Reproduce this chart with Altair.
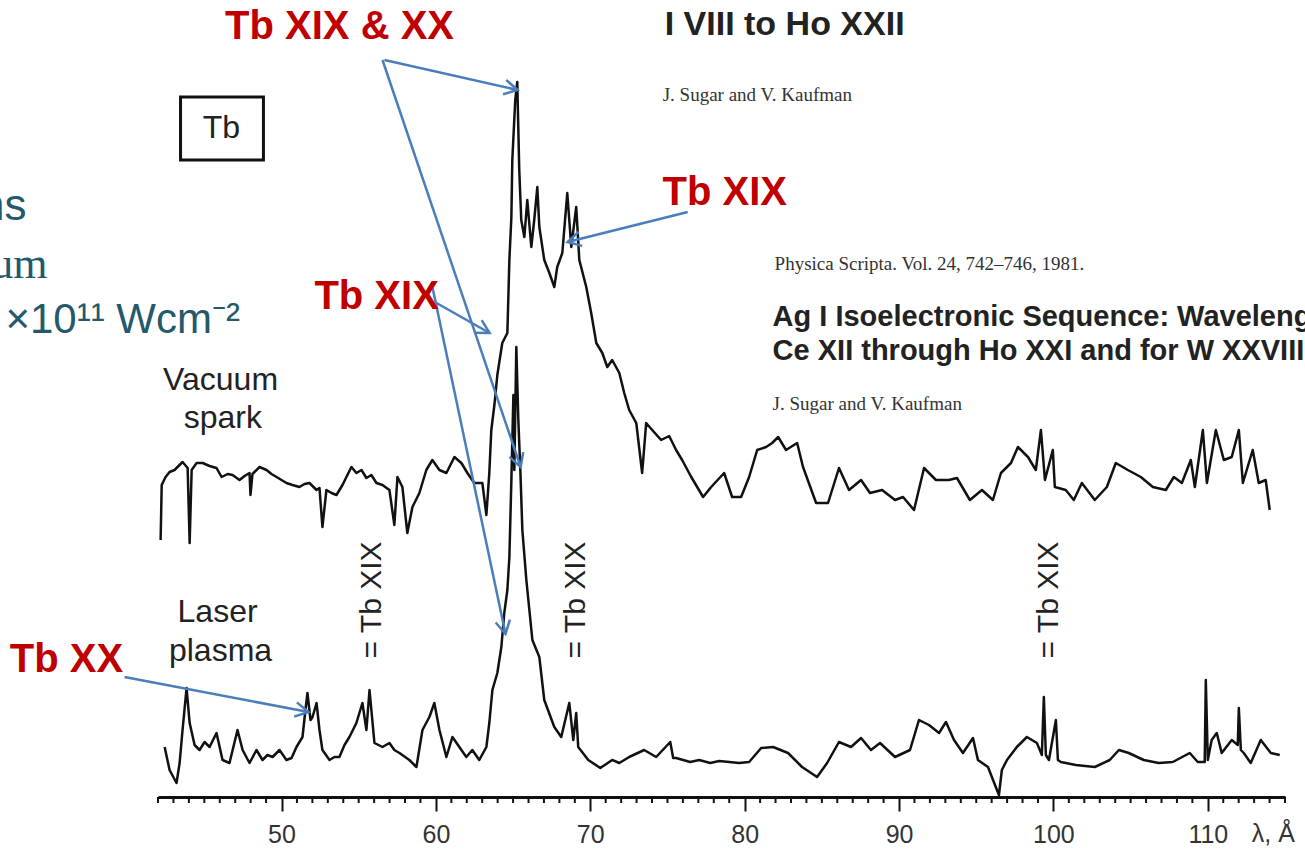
import math
import altair as alt
import pandas as pd

# ---------------- data ----------------
# wavelength in Angstrom, intensity in arbitrary units (vacuum spark trace sits above the laser trace)
spark_wl = [42.17, 42.24, 42.49, 42.75, 43.07, 43.59, 43.92, 44.05, 44.18, 44.50, 44.89, 45.34, 45.79,
            46.12, 46.51, 46.83, 47.28, 47.61, 47.93, 47.99, 48.12, 48.58, 49.03, 49.35, 49.68, 50.00,
            50.32, 50.71, 51.16, 51.49, 51.81, 52.27, 52.46, 52.65, 52.91, 53.24, 53.56, 53.95, 54.27,
            54.53, 54.85, 55.18, 55.50, 55.82, 56.15, 56.54, 56.99, 57.31, 57.51, 57.83, 58.15, 58.48,
            58.93, 59.38, 59.77, 60.23, 60.68, 61.20, 61.65, 62.04, 62.49, 63.01, 63.27, 63.46, 63.59,
            63.79, 63.98, 64.30, 64.63, 64.76, 64.89, 64.95, 65.14, 65.27, 65.40, 65.53, 65.73, 65.92,
            66.18, 66.37, 66.57, 66.70, 67.02, 67.35, 67.67, 67.86, 68.19, 68.51, 68.77, 69.09, 69.29,
            69.74, 70.06, 70.39, 70.78, 71.10, 71.42, 71.88, 72.20, 72.52, 72.98, 73.36, 73.62, 74.01,
            74.59, 75.11, 75.56, 75.95, 76.54, 77.31, 77.83, 78.67, 79.19, 79.77, 80.29, 80.81, 81.39,
            81.78, 82.17, 82.68, 83.40, 83.78, 84.63, 85.40, 86.11, 86.76, 87.54, 88.12, 88.90, 89.74,
            90.26, 90.97, 91.62, 92.39, 93.23, 93.75, 94.59, 95.37, 96.08, 96.60, 97.25, 97.70, 98.35,
            98.86, 99.19, 99.45, 99.96, 100.09, 100.80, 101.32, 101.84, 102.68, 103.46, 104.04, 104.82,
            105.66, 106.44, 107.28, 107.80, 108.32, 108.90, 109.16, 109.68, 109.94, 110.52, 111.04,
            111.55, 112.01, 112.27, 112.91, 113.30, 113.75, 114.01]
spark_int = [257, 312, 320, 325, 327, 335, 329, 254, 327, 334, 334, 331, 329,
             320, 323, 322, 317, 321, 324, 302, 323, 330, 327, 323, 320, 317,
             314, 312, 310, 313, 314, 307, 309, 270, 307, 304, 302, 312, 322,
             330, 324, 327, 319, 322, 314, 312, 307, 272, 320, 310, 264, 290,
             304, 327, 337, 327, 324, 340, 334, 324, 314, 314, 282, 324, 367,
             392, 422, 454, 464, 537, 580, 637, 697, 715, 627, 577, 560, 597,
             550, 577, 610, 570, 537, 524, 510, 530, 544, 604, 550, 590, 537,
             510, 484, 454, 444, 430, 437, 424, 404, 387, 374, 324, 374, 367,
             357, 361, 347, 337, 320, 300, 310, 324, 300, 300, 320, 347, 350,
             354, 360, 347, 354, 330, 294, 294, 329, 307, 317, 304, 307, 297,
             300, 287, 329, 317, 317, 319, 297, 307, 297, 324, 334, 350, 340,
             327, 367, 317, 347, 310, 307, 297, 314, 297, 310, 334, 327,
             320, 310, 307, 320, 314, 337, 310, 367, 314, 367, 337,
             340, 367, 314, 347, 314, 317, 287]

laser_wl = [42.43, 42.75, 43.20, 43.40, 43.59, 43.85, 44.05, 44.37, 44.69, 45.02, 45.34, 45.79, 46.18,
            46.63, 47.15, 47.48, 47.93, 48.38, 48.77, 49.09, 49.42, 49.87, 50.32, 50.65, 50.97, 51.36,
            51.55, 51.68, 51.88, 52.01, 52.27, 52.46, 52.65, 53.11, 53.43, 53.75, 54.08, 54.40, 54.85,
            55.24, 55.50, 55.70, 56.02, 56.54, 56.99, 57.31, 57.64, 58.28, 58.74, 59.13, 59.58, 59.90,
            60.23, 60.68, 61.07, 61.52, 61.97, 62.36, 62.81, 63.27, 63.46, 63.66, 63.98, 64.24, 64.43,
            64.63, 64.76, 64.89, 65.02, 65.08, 65.21, 65.34, 65.47, 65.60, 65.86, 66.25, 66.70, 67.02,
            67.67, 68.12, 68.64, 68.90, 69.09, 69.22, 69.87, 70.65, 71.42, 71.88, 72.52, 73.49, 74.27,
            75.18, 75.37, 75.56, 76.47, 77.05, 77.77, 78.35, 79.00, 79.64, 80.29, 81.07, 81.84, 82.81,
            83.72, 84.69, 85.34, 86.11, 86.89, 87.54, 88.18, 88.77, 89.74, 90.71, 91.29, 91.94, 92.59,
            93.04, 93.56, 94.14, 94.79, 95.11, 95.76, 96.47, 96.66, 96.99, 97.63, 98.28, 98.93, 99.25,
            99.38, 99.51, 99.71, 100.16, 100.29, 100.48, 101.45, 102.68, 103.65, 104.24, 104.88, 105.85,
            106.82, 107.73, 108.83, 109.35, 109.80, 109.87, 110.00, 110.25, 110.58, 110.90, 111.55,
            111.94, 112.01, 112.14, 112.33, 112.78, 113.43, 114.08, 114.66]
laser_int = [50, 27, 14, 34, 67, 109, 74, 52, 47, 55, 50, 64, 37,
             34, 67, 47, 34, 47, 37, 42, 40, 47, 37, 39, 50, 60,
             87, 104, 77, 80, 94, 67, 47, 37, 40, 40, 52, 60, 74,
             94, 67, 107, 54, 50, 54, 47, 44, 37, 30, 67, 80, 94,
             67, 40, 60, 50, 40, 47, 37, 50, 74, 107, 124, 150, 184,
             207, 240, 317, 402, 327, 450, 377, 327, 267, 217, 157, 140, 97,
             70, 60, 94, 57, 84, 50, 37, 29, 37, 34, 40, 47, 40,
             55, 39, 39, 35, 37, 34, 36, 35, 34, 35, 49, 50, 44,
             30, 20, 34, 55, 50, 59, 47, 54, 40, 47, 77, 72, 64,
             75, 57, 44, 59, 37, 30, 2, 27, 37, 50, 60, 54, 42,
             100, 42, 37, 77, 37, 35, 32, 30, 37, 47, 44, 37,
             34, 35, 44, 35, 35, 117, 37, 57, 64, 44, 57,
             52, 89, 47, 44, 34, 57, 44, 42]

major_ticks = [50, 60, 70, 80, 90, 100, 110]
minor_ticks = [w for w in range(42, 116) if w % 10 != 0]

# annotation arrows (start -> tip), in the chart's own units
arrow_wl0 = [56.67, 56.54, 60.04, 59.72, 76.31, 39.83]
arrow_i0 = [737, 737, 494, 514, 585, 120]
arrow_wl1 = [65.29, 65.49, 63.48, 64.51, 68.53, 51.75]
arrow_i1 = [707, 330, 464, 163, 555, 85]

# ---------------- chart geometry ----------------
W, H = 1127, 797
XDOM = [42, 115]
YDOM = [0, 797]
SX = W / (XDOM[1] - XDOM[0])
SY = H / (YDOM[1] - YDOM[0])

AXIS = alt.Axis(values=major_ticks, tickSize=14, tickWidth=2, tickColor="#111111",
                domainWidth=3, domainColor="#111111", labelFontSize=25,
                labelFont="Liberation Sans", labelColor="#333333", labelPadding=31,
                labelBaseline="alphabetic", grid=False, labelFlush=False,
                labelOverlap=False, format="d")


def xenc(field="wl"):
    return alt.X(f"{field}:Q", scale=alt.Scale(domain=XDOM, nice=False, zero=False),
                 axis=AXIS, title=None)


def yenc(field="inten"):
    return alt.Y(f"{field}:Q", scale=alt.Scale(domain=YDOM, nice=False, zero=False),
                 axis=None)


def note(text, wl, inten, size, color="#222222", font="Liberation Sans", weight="normal",
         align="center", baseline="middle", angle=0):
    d = pd.DataFrame({"wl": [wl], "inten": [inten]})
    return alt.Chart(d).mark_text(text=text, fontSize=size, color=color, font=font,
                                  fontWeight=weight, align=align, baseline=baseline,
                                  angle=angle).encode(x=xenc(), y=yenc())


spark_df = pd.DataFrame({"wl": spark_wl, "inten": spark_int, "i": range(len(spark_wl))})
laser_df = pd.DataFrame({"wl": laser_wl, "inten": laser_int, "i": range(len(laser_wl))})

spark = alt.Chart(spark_df).mark_line(color="#111111", strokeWidth=2.5, strokeJoin="round").encode(
    x=xenc(), y=yenc(), order="i:Q")
laser = alt.Chart(laser_df).mark_line(color="#111111", strokeWidth=2.5, strokeJoin="round").encode(
    x=xenc(), y=yenc(), order="i:Q")

minor_df = pd.DataFrame({"wl": minor_ticks})
minor = alt.Chart(minor_df).mark_rule(color="#111111", strokeWidth=2).encode(
    x=xenc(), y=alt.value(H), y2=alt.value(H + 6))

angles = [math.degrees(math.atan2(-(i1 - i0) * SY, (w1 - w0) * SX)) % 360
          for w0, i0, w1, i1 in zip(arrow_wl0, arrow_i0, arrow_wl1, arrow_i1)]
arrow_df = pd.DataFrame({"wl": arrow_wl0, "inten": arrow_i0, "wl2": arrow_wl1,
                         "i2": arrow_i1, "ang": angles})
BLUE = "#4A7EBB"
arrow_lines = alt.Chart(arrow_df).mark_rule(color=BLUE, strokeWidth=2.5).encode(
    x=xenc(), y=yenc(), x2="wl2:Q", y2="i2:Q")
arrow_heads = alt.Chart(arrow_df).mark_point(
    shape="M-1,-0.55L0,0L-1,0.55", filled=False, stroke=BLUE, strokeWidth=2.5,
    size=700, opacity=1).encode(
    x=xenc("wl2"), y=yenc("i2"), angle=alt.Angle("ang:Q", scale=None))

box_df = pd.DataFrame({"wl": [43.46], "wl2": [48.83], "inten": [700], "i2": [637]})
box = alt.Chart(box_df).mark_rect(fill="white", fillOpacity=0, stroke="#111111",
                                  strokeWidth=3).encode(
    x=xenc(), x2="wl2:Q", y=yenc(), y2="i2:Q")

RED = "#C00000"
TEAL = "#23596B"
texts = [
    note("Tb XIX & XX", 53.76, 770, 40, RED, weight="bold"),
    note("Tb XIX", 78.71, 604, 40, RED, weight="bold"),
    note("Tb XIX", 56.16, 500, 40, RED, weight="bold"),
    note("Tb XX", 36.07, 137, 40, RED, weight="bold"),
    note("I VIII to Ho XXII", 74.82, 762, 34, "#222222", weight="bold", align="left",
         baseline="alphabetic"),
    note("J. Sugar and V. Kaufman", 74.69, 696, 19, "#333333", font="Liberation Serif",
         align="left", baseline="alphabetic"),
    note("Physica Scripta. Vol. 24, 742\u2013746, 1981.", 81.94, 527, 19, "#333333",
         font="Liberation Serif", align="left", baseline="alphabetic"),
    note("Ag I Isoelectronic Sequence: Wavelengths", 81.81, 471, 29, "#222222", weight="bold",
         align="left", baseline="alphabetic"),
    note("Ce XII through Ho XXI and for W XXVIII", 81.81, 437, 29, "#222222", weight="bold",
         align="left", baseline="alphabetic"),
    note("J. Sugar and V. Kaufman", 81.81, 387, 19, "#333333", font="Liberation Serif",
         align="left", baseline="alphabetic"),
    note("Tb", 46.11, 669, 32, "#222222"),
    note("ns", 33.48, 577, 44, TEAL, align="right", baseline="alphabetic"),
    note("um", 34.84, 519, 44, TEAL, font="Liberation Serif", align="right", baseline="alphabetic"),
    note("\u00d710\u00b9\u00b9 Wcm\u207b\u00b2", 32.12, 464, 42, TEAL, align="left",
         baseline="alphabetic"),
    note("Vacuum", 46.05, 407, 32, "#222222", baseline="alphabetic"),
    note("spark", 46.20, 369, 32, "#222222", baseline="alphabetic"),
    note("Laser", 45.86, 175, 32, "#222222", baseline="alphabetic"),
    note("plasma", 46.05, 136, 32, "#222222", baseline="alphabetic"),
    note("= Tb XIX", 55.83, 197, 30, "#222222", angle=270),
    note("= Tb XIX", 69.09, 197, 30, "#222222", angle=270),
    note("= Tb XIX", 99.71, 197, 30, "#222222", angle=270),
    note("\u03bb, \u00c5", 112.85, -45, 25, "#333333", align="left", baseline="alphabetic"),
]

chart = alt.layer(minor, spark, laser, box, arrow_lines, arrow_heads, *texts).properties(
    width=W, height=H,
    padding={"left": 158, "top": 0, "right": 20, "bottom": 53},
    autosize=alt.AutoSizeParams(type="none"),
    background="white",
).configure_view(stroke=None)

chart.save("out.html", embed_options={"renderer": "svg", "actions": False})
